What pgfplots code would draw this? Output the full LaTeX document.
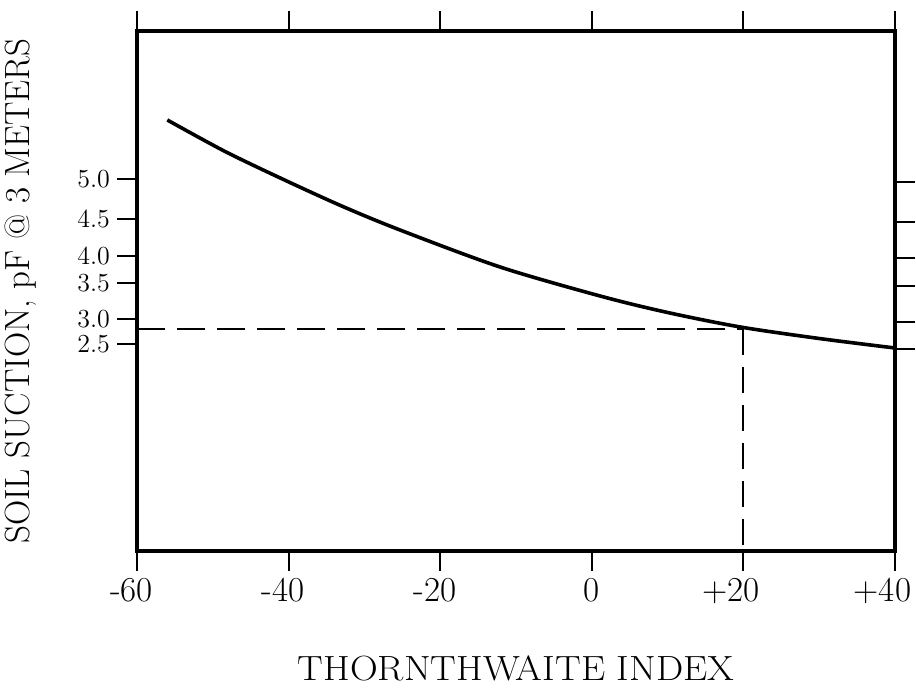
\documentclass[border=0pt]{standalone}
\usepackage{graphicx}
\usepackage{pgfplots}
\pgfplotsset{compat=1.18}

% y runs in plot units of the original sheet (bottom of frame = 0), the pF scale is non-linear
\begin{document}
\begin{tikzpicture}
\begin{axis}[
    name=main,
    scale only axis,
    width=379pt, height=260pt,
    xmin=-60, xmax=40,
    ymin=0, ymax=520,
    axis line style={line width=2.4pt},
    xtick={-60,-40,-20,0,20,40},
    xticklabels={\llap{-}60,\llap{-}40,\llap{-}20,0,\llap{+}20,\llap{+}40},
    ytick={207,232,268,295,332,372},
    yticklabels={2.5,3.0,3.5,4.0,4.5,5.0},
    xtick pos=both, ytick pos=left,
    tick align=outside,
    major tick length=10pt,
    tick style={line width=1pt, black},
    xticklabel style={font=\fontsize{17.5}{17.5}\selectfont},
    yticklabel style={font=\fontsize{13}{13}\selectfont},
    xlabel={\scalebox{1.1}[1]{THORNTHWAITE INDEX}},
    ylabel={SOIL SUCTION, pF @ 3 METERS},
    label style={font=\fontsize{17.5}{17.5}\selectfont},
    xlabel style={at={(axis description cs:0.5,-0.225)}, anchor=center},
    ylabel style={at={(axis description cs:-0.154,0.5)}, anchor=center},
]
\addplot[black, line width=1.8pt, smooth] coordinates {
    (-56,431) (-48.5,400) (-41.1,373) (-33,345) (-25.3,321) (-12.1,284)
    (1.1,255) (10,238.5) (19.6,224) (30,212.5) (40,203)
};
\addplot[black, line width=1pt, dash pattern=on 14pt off 6pt] coordinates {
    (-60,222) (20,222)
};
\addplot[black, line width=1pt, dash pattern=on 13pt off 6pt] coordinates {
    (20,222) (20,0)
};
\end{axis}
\begin{axis}[
    scale only axis,
    width=379pt, height=260pt,
    xmin=-60, xmax=40,
    ymin=0, ymax=520,
    hide x axis,
    axis y line*=right,
    y axis line style={draw=none},
    ytick={202,229,265,293,329,369},
    yticklabels={},
    tick align=outside,
    major tick length=10pt,
    tick style={line width=1pt, black},
]
\end{axis}
\pgfresetboundingbox
\path[use as bounding box] ([xshift=-68.5pt,yshift=-72.5pt]main.south west)
    rectangle ([xshift=10.5pt,yshift=15.5pt]main.north east);
\end{tikzpicture}
\end{document}
